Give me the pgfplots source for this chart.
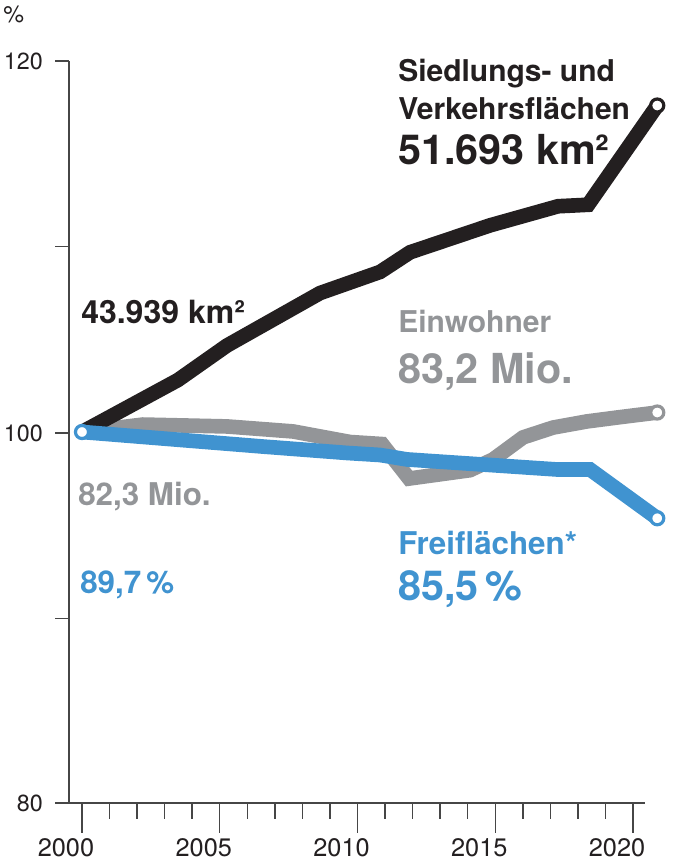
\documentclass[border=0pt]{standalone}
\usepackage{pgfplots}
\pgfplotsset{compat=1.18}
\usepackage{fontspec}
\setmainfont{TeX Gyre Heros}
\definecolor{cblack}{RGB}{35,31,32}
\definecolor{cgrey}{RGB}{147,149,152}
\definecolor{cblue}{RGB}{64,147,208}
\definecolor{caxis}{RGB}{70,70,70}
\newcommand{\lblsmall}{\fontsize{22.5pt}{27pt}\selectfont}
\newcommand{\lblmid}{\fontsize{23.5pt}{28pt}\selectfont}
\newcommand{\lblbig}{\fontsize{31pt}{36pt}\selectfont}
\newcommand{\ticksz}{\fontsize{17.5pt}{20pt}\selectfont}
\newcommand{\yearsz}{\fontsize{19pt}{22pt}\selectfont}
\begin{document}
\begin{tikzpicture}
\begin{axis}[
  scale only axis,
  width=442.5pt, height=556.5pt,
  at={(41.25pt,43.5pt)}, anchor=south west,
  xmin=1999.02, xmax=2020.435, ymin=80, ymax=120,
  axis line style={draw=none},
  xtick=\empty, ytick=\empty,
  clip=false,
]
\addplot[cgrey, line width=11pt, line join=miter] coordinates {
(2000,100) (2002.21,100.40) (2005.26,100.30) (2007.66,100.03) (2009.73,99.46) (2010.89,99.35) (2011.87,97.49) (2014.08,97.94) (2014.92,98.52) (2016.01,99.71) (2017.10,100.24) (2018.33,100.57) (2019.42,100.78) (2020.88,101.05)};
\addplot[cblack, line width=11pt, line join=miter] coordinates {
(2000,100) (2003.48,102.80) (2005.26,104.66) (2008.64,107.49) (2010.82,108.63) (2011.91,109.69) (2014.81,111.14) (2017.28,112.17) (2018.37,112.25) (2020.88,117.6)};
\addplot[cblue, line width=11pt, line join=miter] coordinates {
(2000,100) (2006.53,99.22) (2009.62,98.87) (2010.82,98.76) (2011.80,98.52) (2017.24,97.98) (2018.44,97.98) (2020.88,95.35)};
\addplot[only marks, mark=*, mark size=4.9pt, mark options={fill=white, draw=cblack, line width=2.4pt}] coordinates {(2020.88,117.6)};
\addplot[only marks, mark=*, mark size=4.9pt, mark options={fill=white, draw=cgrey, line width=2.4pt}] coordinates {(2020.88,101.05)};
\addplot[only marks, mark=*, mark size=4.9pt, mark options={fill=white, draw=cblue, line width=2.4pt}] coordinates {(2000,100) (2020.88,95.35)};
\end{axis}
\begin{scope}[x=0.75pt, y=0.75pt]
  \draw[caxis, line width=1.1pt] (55,58) -- (645,58);
  \draw[caxis, line width=1.1pt] (69,58) -- (69,800);
  \foreach \yy in {800,614.5,428,242.5} {\draw[caxis, line width=1.1pt] (55,\yy) -- (69,\yy);}
  \foreach \k in {0,...,20} {\draw[caxis, line width=1.1pt] ({82+27.55*\k},58) -- ++(0,-16);}
  \foreach \k in {0,5,10,15,20} {\draw[caxis, line width=1.1pt] ({82+27.55*\k},58) -- ++(0,-30);}
  \node[anchor=east, inner sep=0pt, text=cblack] at (43,800) {\ticksz 120};
  \node[anchor=east, inner sep=0pt, text=cblack] at (43,428) {\ticksz 100};
  \node[anchor=east, inner sep=0pt, text=cblack] at (43,58) {\ticksz 80};
  \node[anchor=base west, inner sep=0pt, text=cblack] at (3,838) {\ticksz \%};
  \foreach \k/\lab in {0/2000,5/2005,10/2010,15/2015,20/2020}
    {\node[anchor=base, inner sep=0pt, text=cblack] at ({82+27.55*\k-16},5) {\yearsz \lab};}
  \node[anchor=base west, inner sep=0pt, text=cblack, font=\bfseries] at (398,779) {\lblsmall Siedlungs- und};
  \node[anchor=base west, inner sep=0pt, text=cblack, font=\bfseries] at (398,741) {\lblsmall Verkehrsfl\"achen};
  \node[anchor=base west, inner sep=0pt, text=cblack, font=\bfseries] at (398,696) {\lblbig 51.693 km²};
  \node[anchor=base west, inner sep=0pt, text=cblack, font=\bfseries] at (81,537) {\fontsize{24pt}{28pt}\selectfont 43.939 km²};
  \node[anchor=base west, inner sep=0pt, text=cgrey, font=\bfseries] at (398,528) {\lblsmall Einwohner};
  \node[anchor=base west, inner sep=0pt, text=cgrey, font=\bfseries] at (398,477) {\lblbig 83,2 Mio.};
  \node[anchor=base west, inner sep=0pt, text=cgrey, font=\bfseries] at (78,355) {\lblmid 82,3 Mio.};
  \node[anchor=base west, inner sep=0pt, text=cblue, font=\bfseries] at (398,306) {\lblmid Freifl\"achen*};
  \node[anchor=base west, inner sep=0pt, text=cblue, font=\bfseries] at (398,260) {\lblbig 85,5\,\%};
  \node[anchor=base west, inner sep=0pt, text=cblue, font=\bfseries] at (80,267) {\lblmid 89,7\,\%};
\end{scope}
\pgfresetboundingbox
\useasboundingbox (0,0) rectangle (504.75pt,645.75pt);
\end{tikzpicture}
\end{document}
